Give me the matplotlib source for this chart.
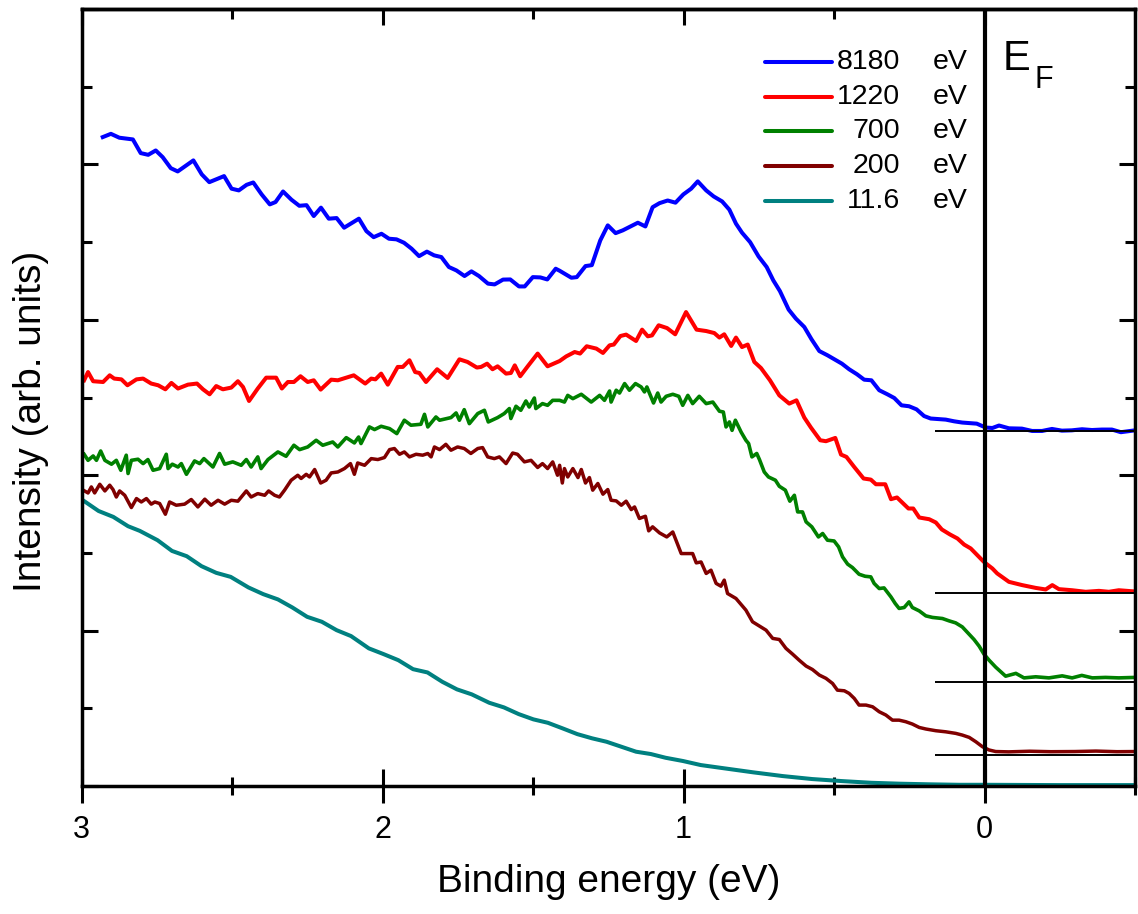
import numpy as np
import matplotlib
matplotlib.use('Agg')
import matplotlib.pyplot as plt
from matplotlib.ticker import MultipleLocator

plt.rcParams['font.family'] = ['Liberation Sans', 'DejaVu Sans']

# spectra: (binding energy in eV, intensity in arb. units)
blue = [(2.930, 4.176), (2.903, 4.197), (2.875, 4.172), (2.830, 4.161), (2.804, 4.073), (2.779, 4.062),
        (2.754, 4.090), (2.731, 4.047), (2.704, 3.976), (2.681, 3.955), (2.629, 4.026), (2.601, 3.936),
        (2.576, 3.886), (2.527, 3.925), (2.502, 3.844), (2.478, 3.833), (2.452, 3.869), (2.430, 3.884),
        (2.402, 3.807), (2.375, 3.743), (2.356, 3.758), (2.331, 3.826), (2.303, 3.773), (2.277, 3.734),
        (2.253, 3.738), (2.229, 3.668), (2.205, 3.722), (2.179, 3.651), (2.153, 3.655), (2.128, 3.593),
        (2.079, 3.651), (2.054, 3.571), (2.030, 3.532), (2.004, 3.554), (1.979, 3.522), (1.954, 3.518),
        (1.929, 3.496), (1.904, 3.458), (1.879, 3.410), (1.853, 3.439), (1.829, 3.415), (1.805, 3.404),
        (1.780, 3.340), (1.755, 3.318), (1.728, 3.282), (1.705, 3.312), (1.680, 3.282), (1.650, 3.233),
        (1.628, 3.228), (1.600, 3.259), (1.576, 3.260), (1.547, 3.215), (1.528, 3.215), (1.501, 3.275),
        (1.476, 3.273), (1.453, 3.260), (1.425, 3.329), (1.412, 3.316), (1.373, 3.271), (1.355, 3.275),
        (1.326, 3.346), (1.305, 3.352), (1.277, 3.511), (1.252, 3.608), (1.226, 3.558), (1.202, 3.576),
        (1.152, 3.625), (1.127, 3.601), (1.103, 3.725), (1.080, 3.751), (1.053, 3.768), (1.027, 3.754),
        (1.001, 3.807), (0.975, 3.844), (0.953, 3.891), (0.925, 3.833), (0.900, 3.794), (0.872, 3.762),
        (0.848, 3.709), (0.826, 3.619), (0.806, 3.561), (0.779, 3.500), (0.751, 3.408), (0.724, 3.340),
        (0.702, 3.254), (0.680, 3.185), (0.651, 3.066), (0.627, 3.008), (0.599, 2.954), (0.575, 2.875),
        (0.549, 2.799), (0.522, 2.772), (0.474, 2.718), (0.450, 2.682), (0.424, 2.650), (0.400, 2.615),
        (0.376, 2.611), (0.350, 2.547), (0.323, 2.521), (0.300, 2.497), (0.276, 2.450), (0.251, 2.444),
        (0.226, 2.424), (0.201, 2.381), (0.179, 2.365), (0.129, 2.358), (0.101, 2.347), (0.074, 2.339),
        (0.026, 2.332), (-0.004, 2.307), (-0.026, 2.304), (-0.048, 2.320), (-0.081, 2.302), (-0.124, 2.300),
        (-0.158, 2.285), (-0.191, 2.285), (-0.224, 2.298), (-0.257, 2.287), (-0.290, 2.289), (-0.324, 2.296),
        (-0.357, 2.291), (-0.390, 2.294), (-0.423, 2.294), (-0.453, 2.277), (-0.500, 2.289)]

red = [(2.992, 2.611), (2.979, 2.664), (2.962, 2.605), (2.929, 2.600), (2.907, 2.643), (2.892, 2.622),
       (2.868, 2.617), (2.848, 2.579), (2.818, 2.617), (2.796, 2.622), (2.769, 2.590), (2.746, 2.579),
       (2.722, 2.553), (2.702, 2.594), (2.680, 2.558), (2.647, 2.583), (2.617, 2.590), (2.597, 2.553),
       (2.575, 2.521), (2.553, 2.574), (2.531, 2.553), (2.503, 2.564), (2.481, 2.605), (2.464, 2.568),
       (2.444, 2.478), (2.415, 2.558), (2.387, 2.628), (2.354, 2.628), (2.335, 2.558), (2.315, 2.600),
       (2.295, 2.600), (2.273, 2.637), (2.249, 2.600), (2.229, 2.611), (2.206, 2.551), (2.171, 2.615),
       (2.149, 2.611), (2.121, 2.628), (2.096, 2.643), (2.058, 2.590), (2.038, 2.622), (2.024, 2.617),
       (2.005, 2.654), (1.983, 2.583), (1.950, 2.697), (1.933, 2.697), (1.911, 2.740), (1.892, 2.664),
       (1.878, 2.658), (1.856, 2.600), (1.819, 2.682), (1.784, 2.626), (1.745, 2.746), (1.718, 2.729),
       (1.687, 2.693), (1.673, 2.697), (1.653, 2.718), (1.635, 2.682), (1.618, 2.701), (1.590, 2.654),
       (1.574, 2.658), (1.561, 2.707), (1.543, 2.637), (1.518, 2.701), (1.485, 2.783), (1.452, 2.701),
       (1.412, 2.735), (1.390, 2.765), (1.362, 2.793), (1.344, 2.783), (1.322, 2.830), (1.290, 2.815),
       (1.268, 2.787), (1.246, 2.836), (1.232, 2.841), (1.210, 2.896), (1.191, 2.905), (1.158, 2.864),
       (1.138, 2.937), (1.119, 2.894), (1.105, 2.900), (1.083, 2.965), (1.055, 2.947), (1.028, 2.907),
       (0.992, 3.050), (0.957, 2.937), (0.925, 2.928), (0.898, 2.915), (0.881, 2.886), (0.865, 2.907),
       (0.842, 2.832), (0.826, 2.886), (0.806, 2.825), (0.787, 2.841), (0.765, 2.729), (0.743, 2.690),
       (0.713, 2.611), (0.682, 2.514), (0.649, 2.461), (0.625, 2.482), (0.599, 2.371), (0.577, 2.307),
       (0.546, 2.225), (0.527, 2.219), (0.496, 2.240), (0.477, 2.133), (0.459, 2.118), (0.433, 2.053),
       (0.402, 1.979), (0.378, 1.972), (0.361, 1.942), (0.330, 1.942), (0.311, 1.846), (0.291, 1.857),
       (0.253, 1.786), (0.237, 1.786), (0.217, 1.728), (0.184, 1.717), (0.162, 1.696), (0.142, 1.651),
       (0.115, 1.619), (0.090, 1.593), (0.068, 1.554), (0.046, 1.529), (0.024, 1.486), (0.002, 1.442),
       (-0.026, 1.400), (-0.042, 1.368), (-0.081, 1.314), (-0.125, 1.293), (-0.170, 1.275), (-0.203, 1.265),
       (-0.225, 1.293), (-0.247, 1.267), (-0.291, 1.260), (-0.336, 1.250), (-0.380, 1.256), (-0.413, 1.250),
       (-0.446, 1.260), (-0.500, 1.252)]

green = [(2.992, 2.135), (2.979, 2.096), (2.962, 2.124), (2.951, 2.096), (2.937, 2.156), (2.923, 2.096),
         (2.901, 2.071), (2.885, 2.096), (2.870, 2.032), (2.852, 2.129), (2.846, 2.011), (2.835, 2.096),
         (2.813, 2.103), (2.796, 2.075), (2.780, 2.101), (2.763, 2.032), (2.741, 2.043), (2.719, 2.135),
         (2.713, 2.043), (2.699, 2.071), (2.680, 2.053), (2.669, 2.075), (2.652, 2.006), (2.625, 2.092),
         (2.608, 2.075), (2.594, 2.107), (2.564, 2.053), (2.542, 2.140), (2.525, 2.071), (2.498, 2.086),
         (2.470, 2.064), (2.453, 2.101), (2.437, 2.053), (2.415, 2.118), (2.404, 2.043), (2.381, 2.101),
         (2.348, 2.150), (2.321, 2.122), (2.295, 2.193), (2.276, 2.165), (2.249, 2.182), (2.221, 2.225),
         (2.199, 2.193), (2.166, 2.214), (2.149, 2.182), (2.121, 2.242), (2.094, 2.208), (2.080, 2.246),
         (2.072, 2.204), (2.044, 2.311), (2.027, 2.294), (2.005, 2.315), (1.977, 2.300), (1.953, 2.268),
         (1.928, 2.354), (1.906, 2.322), (1.873, 2.328), (1.861, 2.392), (1.850, 2.311), (1.823, 2.375),
         (1.811, 2.354), (1.773, 2.371), (1.756, 2.401), (1.745, 2.354), (1.729, 2.422), (1.712, 2.332),
         (1.684, 2.397), (1.662, 2.418), (1.649, 2.343), (1.618, 2.371), (1.596, 2.397), (1.579, 2.429),
         (1.574, 2.365), (1.557, 2.444), (1.541, 2.418), (1.524, 2.478), (1.513, 2.439), (1.496, 2.497),
         (1.491, 2.429), (1.469, 2.461), (1.452, 2.450), (1.435, 2.482), (1.412, 2.482), (1.396, 2.471),
         (1.385, 2.514), (1.368, 2.493), (1.340, 2.521), (1.307, 2.471), (1.279, 2.514), (1.263, 2.482),
         (1.246, 2.542), (1.241, 2.471), (1.224, 2.547), (1.213, 2.529), (1.196, 2.590), (1.180, 2.547),
         (1.160, 2.590), (1.141, 2.568), (1.130, 2.536), (1.122, 2.568), (1.100, 2.465), (1.086, 2.529),
         (1.075, 2.471), (1.058, 2.508), (1.036, 2.521), (1.016, 2.508), (1.003, 2.450), (0.986, 2.514),
         (0.970, 2.461), (0.948, 2.508), (0.925, 2.461), (0.903, 2.471), (0.881, 2.412), (0.868, 2.407),
         (0.859, 2.311), (0.848, 2.343), (0.839, 2.289), (0.828, 2.354), (0.809, 2.278), (0.793, 2.225),
         (0.784, 2.204), (0.773, 2.118), (0.757, 2.140), (0.748, 2.101), (0.732, 2.021), (0.718, 1.989),
         (0.695, 1.968), (0.682, 1.929), (0.662, 1.904), (0.647, 1.833), (0.632, 1.871), (0.621, 1.764),
         (0.605, 1.764), (0.593, 1.700), (0.574, 1.668), (0.552, 1.603), (0.538, 1.625), (0.522, 1.582),
         (0.500, 1.577), (0.485, 1.539), (0.472, 1.475), (0.455, 1.428), (0.439, 1.406), (0.417, 1.363),
         (0.397, 1.350), (0.378, 1.346), (0.367, 1.304), (0.350, 1.271), (0.334, 1.275), (0.311, 1.217),
         (0.297, 1.175), (0.284, 1.143), (0.267, 1.149), (0.251, 1.185), (0.240, 1.149), (0.217, 1.127),
         (0.195, 1.095), (0.173, 1.085), (0.140, 1.078), (0.118, 1.063), (0.096, 1.050), (0.074, 1.024),
         (0.054, 0.982), (0.035, 0.943), (0.018, 0.900), (0.002, 0.849), (-0.015, 0.810), (-0.037, 0.765),
         (-0.070, 0.707), (-0.104, 0.725), (-0.131, 0.696), (-0.170, 0.703), (-0.214, 0.696), (-0.258, 0.709),
         (-0.291, 0.696), (-0.323, 0.712), (-0.358, 0.696), (-0.402, 0.699), (-0.446, 0.696), (-0.500, 0.699)]

brown = [(2.995, 1.904), (2.979, 1.886), (2.968, 1.925), (2.957, 1.886), (2.940, 1.942), (2.923, 1.899),
         (2.907, 1.936), (2.896, 1.908), (2.885, 1.860), (2.874, 1.899), (2.857, 1.871), (2.835, 1.792),
         (2.818, 1.850), (2.802, 1.828), (2.785, 1.850), (2.769, 1.814), (2.757, 1.828), (2.741, 1.818),
         (2.722, 1.749), (2.708, 1.828), (2.686, 1.807), (2.658, 1.814), (2.636, 1.844), (2.614, 1.796),
         (2.591, 1.846), (2.570, 1.807), (2.547, 1.839), (2.525, 1.814), (2.503, 1.839), (2.481, 1.833),
         (2.453, 1.899), (2.437, 1.860), (2.415, 1.882), (2.392, 1.871), (2.379, 1.899), (2.359, 1.871),
         (2.343, 1.860), (2.326, 1.904), (2.304, 1.968), (2.282, 2.000), (2.271, 1.979), (2.254, 2.006),
         (2.243, 1.989), (2.226, 2.037), (2.206, 1.950), (2.188, 1.968), (2.171, 2.015), (2.149, 2.021),
         (2.127, 2.043), (2.107, 2.075), (2.094, 2.006), (2.083, 2.079), (2.060, 2.064), (2.038, 2.107),
         (2.016, 2.101), (1.994, 2.114), (1.977, 2.165), (1.961, 2.172), (1.944, 2.135), (1.928, 2.150),
         (1.911, 2.118), (1.889, 2.135), (1.867, 2.129), (1.850, 2.140), (1.839, 2.118), (1.828, 2.182),
         (1.811, 2.165), (1.790, 2.199), (1.773, 2.161), (1.751, 2.182), (1.729, 2.172), (1.707, 2.140),
         (1.684, 2.172), (1.668, 2.178), (1.651, 2.118), (1.629, 2.107), (1.612, 2.118), (1.590, 2.075),
         (1.568, 2.143), (1.552, 2.135), (1.529, 2.086), (1.507, 2.096), (1.485, 2.050), (1.469, 2.075),
         (1.452, 2.043), (1.435, 2.086), (1.419, 2.000), (1.412, 2.064), (1.403, 1.950), (1.396, 2.043),
         (1.385, 1.989), (1.368, 2.043), (1.351, 1.985), (1.340, 2.037), (1.326, 1.950), (1.313, 1.985),
         (1.302, 1.904), (1.285, 1.947), (1.268, 1.878), (1.252, 1.908), (1.241, 1.839), (1.224, 1.835),
         (1.207, 1.807), (1.191, 1.833), (1.174, 1.779), (1.163, 1.796), (1.147, 1.722), (1.127, 1.736),
         (1.116, 1.642), (1.103, 1.668), (1.080, 1.629), (1.056, 1.603), (1.036, 1.635), (1.008, 1.496),
         (0.970, 1.496), (0.958, 1.436), (0.942, 1.442), (0.925, 1.368), (0.909, 1.389), (0.892, 1.304),
         (0.876, 1.286), (0.865, 1.325), (0.854, 1.239), (0.826, 1.207), (0.793, 1.132), (0.771, 1.057),
         (0.748, 1.029), (0.726, 1.003), (0.704, 0.950), (0.682, 0.943), (0.660, 0.886), (0.638, 0.849),
         (0.616, 0.810), (0.593, 0.772), (0.572, 0.750), (0.549, 0.714), (0.527, 0.693), (0.505, 0.660),
         (0.489, 0.617), (0.466, 0.613), (0.450, 0.596), (0.433, 0.564), (0.417, 0.521), (0.394, 0.521),
         (0.372, 0.510), (0.350, 0.478), (0.328, 0.457), (0.306, 0.424), (0.284, 0.424), (0.262, 0.414),
         (0.240, 0.399), (0.217, 0.377), (0.195, 0.367), (0.162, 0.356), (0.129, 0.349), (0.096, 0.339),
         (0.074, 0.328), (0.051, 0.313), (0.029, 0.285), (0.007, 0.253), (-0.015, 0.232), (-0.037, 0.222),
         (-0.080, 0.220), (-0.150, 0.224), (-0.220, 0.221), (-0.300, 0.222), (-0.370, 0.225), (-0.440, 0.221),
         (-0.500, 0.222)]

teal = [(2.996, 1.839), (2.944, 1.770), (2.895, 1.732), (2.846, 1.672), (2.807, 1.642), (2.748, 1.582),
        (2.700, 1.513), (2.651, 1.479), (2.602, 1.415), (2.553, 1.372), (2.505, 1.346), (2.446, 1.278),
        (2.397, 1.235), (2.348, 1.201), (2.300, 1.149), (2.251, 1.089), (2.202, 1.057), (2.153, 1.003),
        (2.105, 0.965), (2.046, 0.886), (1.997, 0.849), (1.948, 0.810), (1.899, 0.752), (1.851, 0.731),
        (1.802, 0.671), (1.753, 0.622), (1.704, 0.590), (1.646, 0.536), (1.597, 0.506), (1.548, 0.463),
        (1.499, 0.429), (1.451, 0.407), (1.402, 0.371), (1.353, 0.334), (1.304, 0.307), (1.256, 0.285),
        (1.207, 0.253), (1.158, 0.221), (1.109, 0.206), (1.060, 0.182), (1.002, 0.161), (0.943, 0.135),
        (0.865, 0.114), (0.768, 0.088), (0.670, 0.064), (0.573, 0.045), (0.475, 0.032), (0.377, 0.021),
        (0.280, 0.015), (0.182, 0.011), (0.085, 0.008), (-0.003, 0.008), (-0.250, 0.006), (-0.500, 0.006)]

photon = ['8180', '1220', '700', '200', '11.6']
colors = ['#0000ff', '#ff0000', '#008000', '#800000', '#008080']
widths = [2.9, 2.9, 2.6, 2.5, 2.9]
# zero-intensity level drawn under each spectrum
baselines = [2.283, 1.243, 0.671, 0.199]

fig = plt.figure(figsize=(11.38, 9.14), dpi=100)
ax = fig.add_axes([0.0718, 0.140, 0.9256, 0.8501])

for data, c, lw in zip([blue, red, green, brown, teal], colors, widths):
    d = np.array(data)
    ax.plot(d[:, 0], d[:, 1], color=c, lw=lw, zorder=2)

ax.hlines(baselines, 0.165, -0.5, color='k', lw=1.4, zorder=3)
ax.axvline(0, color='k', lw=3, zorder=3)

ax.set_xlim(3, -0.5)
ax.set_ylim(0, 5)

ax.xaxis.set_major_locator(MultipleLocator(1))
ax.xaxis.set_minor_locator(MultipleLocator(0.5))
ax.yaxis.set_major_locator(MultipleLocator(1))
ax.yaxis.set_minor_locator(MultipleLocator(0.5))
ax.xaxis.set_major_formatter(plt.FuncFormatter(lambda v, p: '%d' % round(v)))

ax.tick_params(axis='x', which='major', direction='inout', length=24, width=2.2,
               labelsize=22, pad=9, top=False)
ax.tick_params(axis='x', which='minor', direction='inout', length=13, width=2.2, top=False)
ax.tick_params(axis='y', which='major', direction='in', length=11.5, width=2.2,
               left=True, right=True, labelleft=False)
ax.tick_params(axis='y', which='minor', direction='in', length=7, width=2.2,
               left=True, right=True)

top = ax.secondary_xaxis('top')
top.xaxis.set_major_locator(MultipleLocator(1))
top.xaxis.set_minor_locator(MultipleLocator(0.5))
top.tick_params(axis='x', which='major', direction='in', length=11.5, width=2.2, labeltop=False)
top.tick_params(axis='x', which='minor', direction='in', length=7, width=2.2, labeltop=False)
top.spines['top'].set_linewidth(2.5)

for s in ax.spines.values():
    s.set_linewidth(2.5)

ax.set_xlabel('Binding energy (eV)', fontsize=28)
ax.set_ylabel('Intensity (arb. units)', fontsize=28)
ax.xaxis.set_label_coords(0.5, -0.100)
ax.yaxis.set_label_coords(-0.031, 0.469)

# hand-made legend
rows = [0.9314, 0.8871, 0.8430, 0.7979, 0.7533]
for y, lab, c in zip(rows, photon, colors):
    ax.plot([0.6487, 0.7123], [y, y], transform=ax.transAxes, color=c, lw=2.9,
            solid_capstyle='round', clip_on=False)
    ax.text(0.7769, y, lab, transform=ax.transAxes, ha='right', va='center', fontsize=20.5)
    ax.text(0.8079, y, 'eV', transform=ax.transAxes, ha='left', va='center', fontsize=20.5)

ax.text(0.8740, 0.9215, 'E', transform=ax.transAxes, fontsize=30, va='baseline')
ax.text(0.9045, 0.8983, 'F', transform=ax.transAxes, fontsize=22, va='baseline')

fig.savefig('out.png', dpi=100)
